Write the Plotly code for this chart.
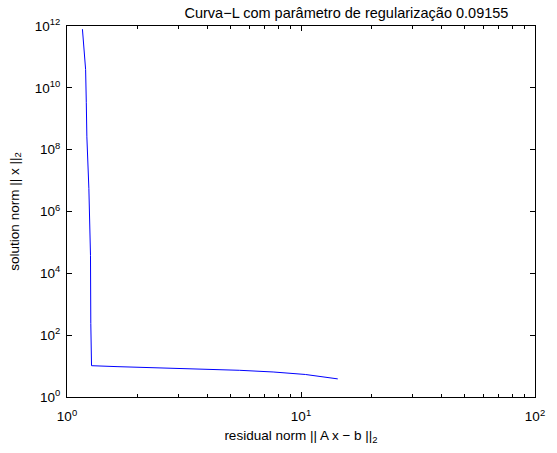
import plotly.graph_objects as go

# L-curve data
residual_norm = [1.164, 1.190, 1.201, 1.209, 1.216, 1.240, 1.249, 1.260, 1.264,
                 1.270, 1.273, 1.636, 2.652, 4.174, 5.47, 7.60, 10.44, 14.36]
solution_norm = [7.9e11, 1.4e11, 3.9e10, 3.4e9, 2.6e8, 5.6e6, 5.0e5, 3.8e4, 2.4e2,
                 14.0, 10.3, 9.6, 8.7, 7.7, 7.3, 6.45, 5.35, 3.85]

x_tickvals = [1, 10, 100]
x_ticktext = ["10<sup>0</sup>", "10<sup>1</sup>", "10<sup>2</sup>"]
x_minor = [2, 3, 4, 5, 6, 7, 8, 9, 20, 30, 40, 50, 60, 70, 80, 90]
y_tickvals = [1e0, 1e2, 1e4, 1e6, 1e8, 1e10, 1e12]
y_ticktext = ["10<sup>0</sup>", "10<sup>2</sup>", "10<sup>4</sup>", "10<sup>6</sup>",
              "10<sup>8</sup>", "10<sup>10</sup>", "10<sup>12</sup>"]

title_text = "Curva\u2212L com parâmetro de regularização 0.09155"
xlabel = "residual norm || A x \u2212 b ||<sub>2</sub>"
ylabel = "solution norm || x ||<sub>2</sub>"

font = "Liberation Sans, Arial, Helvetica, sans-serif"

fig = go.Figure()
fig.add_trace(go.Scatter(x=residual_norm, y=solution_norm, mode="lines",
                         line=dict(color="#0000ff", width=1), showlegend=False))

axis_common = dict(
    type="log", showgrid=False, zeroline=False,
    showline=True, linecolor="black", linewidth=1, mirror="allticks",
    ticks="inside", ticklen=5, tickcolor="black", tickwidth=1,
    tickfont=dict(family=font, size=13.5, color="black"),
)

fig.update_layout(
    width=557, height=453,
    margin=dict(l=67, r=13, t=26, b=52),
    paper_bgcolor="white", plot_bgcolor="white",
    font=dict(family=font, size=13, color="black"),
    title=dict(text=title_text, xref="container", x=0.622, xanchor="center",
               yref="container", y=1 - 13 / 453, yanchor="middle",
               font=dict(family=font, size=14.5, color="black")),
    xaxis=dict(**axis_common, range=[0, 2], tickvals=x_tickvals, ticktext=x_ticktext,
               ticklabelstandoff=7,
               minor=dict(tickvals=x_minor, ticks="inside", ticklen=3, tickcolor="black"),
               title=dict(text=xlabel, font=dict(family=font, size=13.5), standoff=7)),
    yaxis=dict(**axis_common, range=[0, 12], tickvals=y_tickvals, ticktext=y_ticktext,
               ticklabelstandoff=3,
               title=dict(text=ylabel, font=dict(family=font, size=13.5), standoff=12)),
)

fig.write_html("out.html")
